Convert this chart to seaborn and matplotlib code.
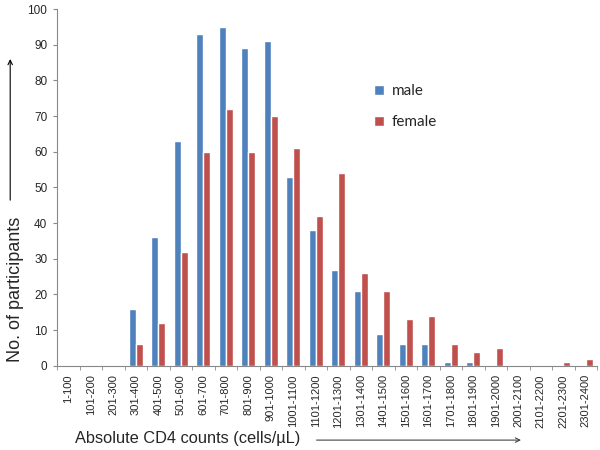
import matplotlib
matplotlib.use("Agg")
import matplotlib.pyplot as plt
import seaborn as sns
import pandas as pd
import numpy as np

categories = ["1-100", "101-200", "201-300", "301-400", "401-500", "501-600", "601-700",
              "701-800", "801-900", "901-1000", "1001-1100", "1101-1200", "1201-1300",
              "1301-1400", "1401-1500", "1501-1600", "1601-1700", "1701-1800", "1801-1900",
              "1901-2000", "2001-2100", "2101-2200", "2201-2300", "2301-2400"]
male = [0, 0, 0, 16, 36, 63, 93, 95, 89, 91, 53, 38, 27, 21, 9, 6, 6, 1, 1, 0, 0, 0, 0, 0]
female = [0, 0, 0, 6, 12, 32, 60, 72, 60, 70, 61, 42, 54, 26, 21, 13, 14, 6, 4, 5, 0, 0, 1, 2]
y_ticks = [0, 10, 20, 30, 40, 50, 60, 70, 80, 90, 100]

df = pd.DataFrame({
    "cat": categories * 2,
    "count": male + female,
    "sex": ["male"] * len(categories) + ["female"] * len(categories),
})

sns.set_style("white")
plt.rcParams['font.family'] = ['Liberation Sans', 'DejaVu Sans']

fig = plt.figure(figsize=(6, 4.5), dpi=100)
ax = fig.add_axes([0.095, 0.187, 0.900, 0.793])

sns.barplot(data=df, x="cat", y="count", hue="sex", order=categories,
            hue_order=["male", "female"], palette={"male": "#4F81BD", "female": "#C0504D"},
            width=0.62, saturation=1, ax=ax, legend=False)

ax.set_ylim(0, 100)
ax.set_xlim(-0.5, len(categories) - 0.5)
ax.set_yticks(y_ticks)
ax.tick_params(axis="y", labelsize=8.5, length=3, color="#888888", direction="out", left=True, pad=4)
ax.set_xticks(range(len(categories)))
ax.set_xticklabels(categories, rotation=90, fontsize=8)
ax.tick_params(axis="x", length=0, pad=6)
ax.set_xticks(np.arange(-0.5, len(categories), 1.0), minor=True)
ax.tick_params(axis="x", which="minor", length=3, color="#888888", direction="out", bottom=True)
for s in ["top", "right"]:
    ax.spines[s].set_visible(False)
for s in ["left", "bottom"]:
    ax.spines[s].set_color("#888888")
    ax.spines[s].set_linewidth(0.8)
ax.set_xlabel("")
ax.set_ylabel("")

# legend
from matplotlib.patches import Patch
handles = [Patch(facecolor="#4F81BD", label="male"), Patch(facecolor="#C0504D", label="female")]
leg = fig.legend(handles=handles, loc="upper left", bbox_to_anchor=(0.600, 0.843),
                 frameon=False, handlelength=0.7, handleheight=0.7, handletextpad=0.5,
                 labelspacing=1.1, prop={"family": ["Lato", "DejaVu Sans"], "size": 11})

# y label with arrow
fig.text(0.026, 0.356, "No. of participants", rotation=90, ha="center", va="center", fontsize=13)
fig.add_artist(matplotlib.patches.FancyArrowPatch((0.017, 0.549), (0.017, 0.875),
               transform=fig.transFigure, arrowstyle="->", mutation_scale=8, lw=0.8, color="black"))

# x label with arrow
fig.text(0.125, 0.026, "Absolute CD4 counts (cells/\u00b5L)", ha="left", va="center", fontsize=11.8)
fig.add_artist(matplotlib.patches.FancyArrowPatch((0.523, 0.022), (0.873, 0.022),
               transform=fig.transFigure, arrowstyle="->", mutation_scale=8, lw=0.8, color="#444444"))

fig.savefig("out.png", dpi=100)
